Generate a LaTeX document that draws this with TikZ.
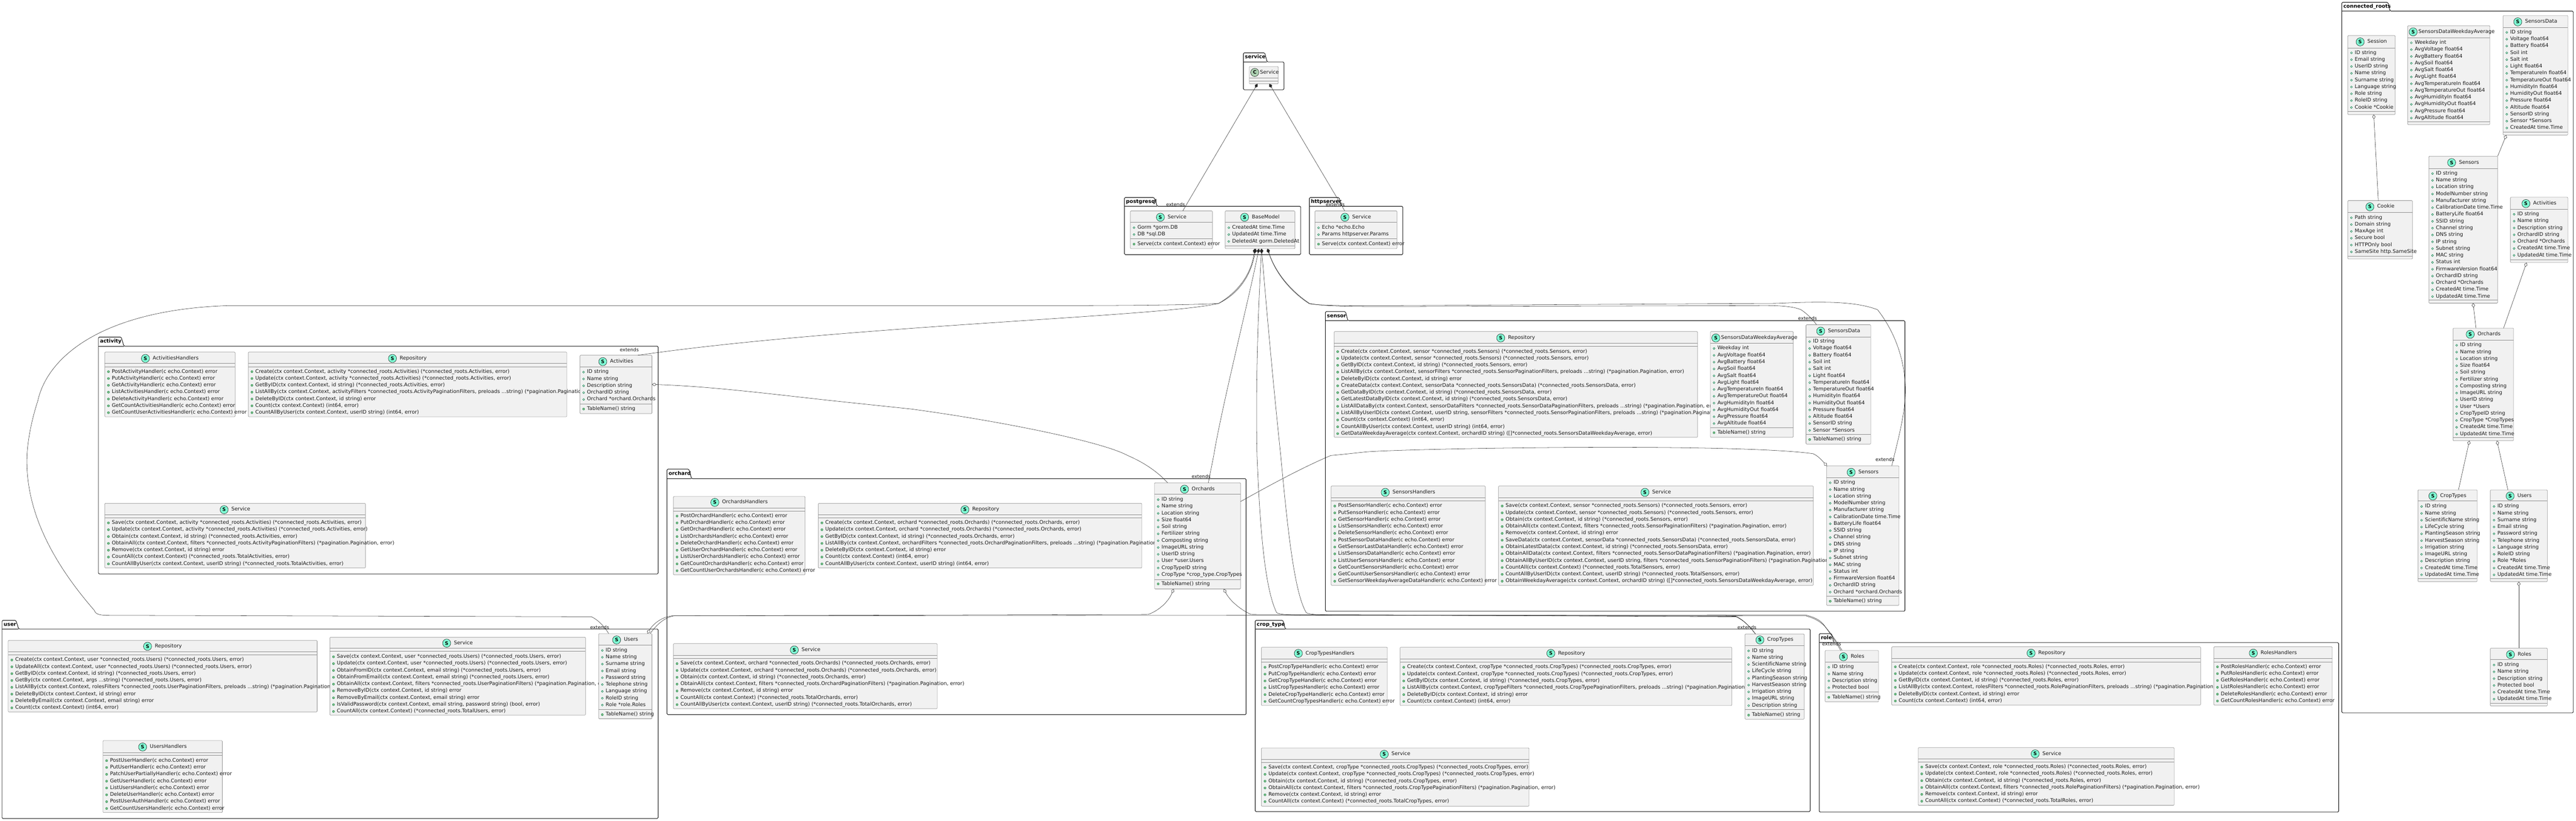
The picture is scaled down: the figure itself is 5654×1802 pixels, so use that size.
\documentclass[tikz,border=0pt]{standalone}
\usepackage{fontspec}
\setmainfont[Ligatures=NoCommon]{DejaVu Sans}
\usetikzlibrary{arrows.meta,calc}
\definecolor{boxfill}{HTML}{F1F1F1}
\definecolor{boxline}{HTML}{8C8C8C}
\definecolor{spotS}{HTML}{7FFFD4}
\definecolor{spotC}{HTML}{ADD1B2}
\definecolor{dotline}{HTML}{038048}
\definecolor{dotfill}{HTML}{84BE84}
\newcommand\rowf{\fontsize{11.15pt}{13pt}\selectfont}
\newcommand\extf{\fontsize{10.4pt}{12pt}\selectfont}
\newcommand\pkgf{\fontsize{11.2pt}{13pt}\selectfont\bfseries}
\newcommand\spotf{\fontsize{10.5pt}{12pt}\selectfont\bfseries}
\newcommand\cro{connected\_roots}
\newcommand\ctxc{ctx context.Context}
\newlength\clstw
\newcount\rowcnt
\def\spotletter{S}\def\spotcolor{spotS}
\tikzset{
 x=1pt,y=-1pt,
 classbox/.style={draw=boxline,fill=boxfill,line width=.7pt,rounded corners=1.5pt,inner sep=0pt,outer sep=0pt},
 sepline/.style={draw=boxline,line width=.8pt},
 rowtext/.style={font=\rowf,anchor=mid west,inner sep=0pt,outer sep=0pt,text=black!90},
 titletext/.style={rowtext},
 spot/.style={circle,draw=black!85,line width=.7pt,minimum size=18pt,inner sep=0pt,font=\spotf},
 fielddot/.style={draw=dotline,line width=.7pt},
 methoddot/.style={draw=dotline,fill=dotfill,line width=.5pt},
 pkgframe/.style={draw=black,line width=1pt,rounded corners=2pt},
 pkglabel/.style={font=\pkgf,anchor=mid west,inner sep=0pt,outer sep=0pt},
 ext/.style={font=\extf,anchor=mid east,inner sep=0pt,outer sep=0pt,text=black!90},
 conn/.style={draw=black!85,line width=.6pt},
 comp/.style={conn,{Diamond[length=10pt,width=7pt]}-},
 agg/.style={conn,{Diamond[length=10pt,width=7pt,fill=white]}-},
}
% id x1 tabtop top x2 bottom tabrighttop tabrightbottom label
\newcommand\pkg[9]{%
 \draw[pkgframe] (#2,#4) -- (#2,#3) -- (#7,#3) -- (#8,#4) -- (#5,#4) -- (#5,#6) -- (#2,#6) -- cycle;
 \draw[draw=black,line width=1pt] (#2,#4) -- (#8,#4);
 \node (#1) [pkglabel] at ({#2+3.5},{(#3+#4)/2}) {#9};
}
% id x1 x2 y1 y2 titleY line1 line2 title
\newcommand\cls[9]{%
 \xdef\xa{#2}%
 \pgfmathsetmacro\clsW{#3-#2}\pgfmathsetmacro\clsH{#5-#4}%
 \node (#1) [classbox,minimum width=\clsW pt,minimum height=\clsH pt] at ({(#2+#3)/2},{(#4+#5)/2}) {};
 \draw[sepline] (#2,#7) -- (#3,#7);
 \draw[sepline] (#2,#8) -- (#3,#8);
 \settowidth\clstw{\pgfinterruptpicture\rowf #9\endpgfinterruptpicture}%
 \pgfmathsetmacro\clsS{(#2+#3)/2-(\clstw+25)/2}%
 \pgfmathsetmacro\clsC{max(\clsS,#2+3)+9}%
 \pgfmathsetmacro\clsT{(\clsS<(#2+3))?(#2+23.5):(\clsS+25)}%
 \node (#1spot) [spot,fill=\spotcolor] at (\clsC,#6) {\spotletter};
 \node (#1title) [titletext] at (\clsT,#6) {#9};
}
\newcommand\setrow[1]{\xdef\rowy{#1}}
\newcommand\nextrow{\pgfmathsetmacro\rowtmp{\rowy+15}\xdef\rowy{\rowtmp}\global\advance\rowcnt by 1 }
\newcommand\rowF[1]{%
 \draw[fielddot] ({\xa+8},\rowy) circle (2.2pt);
 \node (r\the\rowcnt) [rowtext] at ({\xa+15.5},\rowy) {#1};
 \nextrow}
\newcommand\rowM[1]{%
 \draw[methoddot] ({\xa+8},\rowy) circle (2.4pt);
 \node (r\the\rowcnt) [rowtext] at ({\xa+15.5},\rowy) {#1};
 \nextrow}
\begin{document}
\begin{tikzpicture}
\useasboundingbox (0,0) rectangle (5654,1802);
\fill[white] (0,0) rectangle (5654,1802);
% ---- packages
\pkg{pService}{2729}{116}{136}{2818}{197}{2776}{2781}{service}
\pkg{pPostgres}{2468}{433.5}{453}{2855}{559}{2533}{2540}{postgresql}
\pkg{pHttp}{2874}{433.5}{453}{3079}{559}{2939}{2944}{httpserver}
\pkg{pActivity}{216}{740}{760}{1444.5}{1260}{266}{272}{activity}
\pkg{pOrchard}{1464}{1030}{1051}{2735}{1569}{1512}{1518}{orchard}
\pkg{pUser}{4.5}{1362}{1381}{1444.5}{1797}{35}{41}{user}
\pkg{pSensor}{2909}{684}{704}{4181}{1342}{2953}{2958.5}{sensor}
\pkg{pCrop}{2755}{1362}{1381}{3973}{1782}{2816}{2821}{crop\_type}
\pkg{pRole}{3993}{1391}{1411}{5133}{1783}{4020}{4025}{role}
\pkg{pRoots}{5140}{5}{24.5}{5648}{1565}{5241}{5246}{connected\_roots}
% ---- service
\def\spotletter{C}\def\spotcolor{spotC}
\cls{svcS}{2742}{2805.5}{146}{184}{159}{171}{178}{Service}
\def\spotletter{S}\def\spotcolor{spotS}
% ---- postgresql
\cls{pgS}{2481}{2661}{463}{546}{477}{488}{524.5}{Service}
\setrow{500}\rowF{Gorm *gorm.DB}\rowF{DB *sql.DB}
\setrow{536}\rowM{Serve(\ctxc) error}
\cls{bm}{2689}{2842}{463}{546}{477}{488}{540}{BaseModel}
\setrow{500}\rowF{CreatedAt time.Time}\rowF{UpdatedAt time.Time}\rowF{DeletedAt gorm.DeletedAt}
% ---- httpserver
\cls{htS}{2886}{3066}{463}{546}{477}{488}{524.5}{Service}
\setrow{500}\rowF{Echo *echo.Echo}\rowF{Params httpserver.Params}
\setrow{536}\rowM{Serve(\ctxc) error}
% ---- activity
\cls{acH}{230}{516}{773}{915}{787}{798}{805}{ActivitiesHandlers}
\setrow{816}
\rowM{PostActivityHandler(c echo.Context) error}
\rowM{PutActivityHandler(c echo.Context) error}
\rowM{GetActivityHandler(c echo.Context) error}
\rowM{ListActivitiesHandler(c echo.Context) error}
\rowM{DeleteActivityHandler(c echo.Context) error}
\rowM{GetCountActivitiesHandler(c echo.Context) error}
\rowM{GetCountUserActivitiesHandler(c echo.Context) error}
\cls{acR}{545}{1244}{773}{915}{787}{798}{805}{Repository}
\setrow{816}
\rowM{Create(\ctxc, activity *\cro.Activities) (*\cro.Activities, error)}
\rowM{Update(\ctxc, activity *\cro.Activities) (*\cro.Activities, error)}
\rowM{GetByID(\ctxc, id string) (*\cro.Activities, error)}
\rowM{ListAllBy(\ctxc, activityFilters *\cro.ActivityPaginationFilters, preloads ...string) (*pagination.Pagination, error)}
\rowM{DeleteByID(\ctxc, id string) error}
\rowM{Count(\ctxc) (int64, error)}
\rowM{CountAllByUser(\ctxc, userID string) (int64, error)}
\cls{act}{1273}{1431}{780}{908}{794}{805}{887}{Activities}
\setrow{817}
\rowF{ID string}\rowF{Name string}\rowF{Description string}\rowF{OrchardID string}\rowF{Orchard *orchard.Orchards}
\setrow{898}\rowM{TableName() string}
\cls{acS}{230}{802}{1105}{1247}{1119}{1130}{1137}{Service}
\setrow{1148}
\rowM{Save(\ctxc, activity *\cro.Activities) (*\cro.Activities, error)}
\rowM{Update(\ctxc, activity *\cro.Activities) (*\cro.Activities, error)}
\rowM{Obtain(\ctxc, id string) (*\cro.Activities, error)}
\rowM{ObtainAll(\ctxc, filters *\cro.ActivityPaginationFilters) (*pagination.Pagination, error)}
\rowM{Remove(\ctxc, id string) error}
\rowM{CountAll(\ctxc) (*\cro.TotalActivities, error)}
\rowM{CountAllByUser(\ctxc, userID string) (*\cro.TotalActivities, error)}
% ---- orchard
\cls{orH}{1478}{1767}{1090}{1262}{1103}{1115}{1122}{OrchardsHandlers}
\setrow{1133}
\rowM{PostOrchardHandler(c echo.Context) error}
\rowM{PutOrchardHandler(c echo.Context) error}
\rowM{GetOrchardHandler(c echo.Context) error}
\rowM{ListOrchardsHandler(c echo.Context) error}
\rowM{DeleteOrchardHandler(c echo.Context) error}
\rowM{GetUserOrchardHandler(c echo.Context) error}
\rowM{ListUserOrchardsHandler(c echo.Context) error}
\rowM{GetCountOrchardsHandler(c echo.Context) error}
\rowM{GetCountUserOrchardsHandler(c echo.Context) error}
\cls{orR}{1796}{2506}{1105}{1247}{1119}{1130}{1137}{Repository}
\setrow{1148}
\rowM{Create(\ctxc, orchard *\cro.Orchards) (*\cro.Orchards, error)}
\rowM{Update(\ctxc, orchard *\cro.Orchards) (*\cro.Orchards, error)}
\rowM{GetByID(\ctxc, id string) (*\cro.Orchards, error)}
\rowM{ListAllBy(\ctxc, orchardFilters *\cro.OrchardPaginationFilters, preloads ...string) (*pagination.Pagination, error)}
\rowM{DeleteByID(\ctxc, id string) error}
\rowM{Count(\ctxc) (int64, error)}
\rowM{CountAllByUser(\ctxc, userID string) (int64, error)}
\cls{orch}{2534}{2723}{1060}{1293}{1074}{1085}{1272}{Orchards}
\setrow{1097}
\rowF{ID string}\rowF{Name string}\rowF{Location string}\rowF{Size float64}\rowF{Soil string}\rowF{Fertilizer string}\rowF{Composting string}\rowF{ImageURL string}\rowF{UserID string}\rowF{User *user.Users}\rowF{CropTypeID string}\rowF{CropType *crop\_type.CropTypes}
\setrow{1282}\rowM{TableName() string}
\cls{orS}{1478}{2057}{1413}{1556}{1427}{1439}{1446}{Service}
\setrow{1457}
\rowM{Save(\ctxc, orchard *\cro.Orchards) (*\cro.Orchards, error)}
\rowM{Update(\ctxc, orchard *\cro.Orchards) (*\cro.Orchards, error)}
\rowM{Obtain(\ctxc, id string) (*\cro.Orchards, error)}
\rowM{ObtainAll(\ctxc, filters *\cro.OrchardPaginationFilters) (*pagination.Pagination, error)}
\rowM{Remove(\ctxc, id string) error}
\rowM{CountAll(\ctxc) (*\cro.TotalOrchards, error)}
\rowM{CountAllByUser(\ctxc, userID string) (*\cro.TotalOrchards, error)}
% ---- user
\cls{usR}{18}{696}{1406}{1563}{1419}{1431}{1438}{Repository}
\setrow{1449}
\rowM{Create(\ctxc, user *\cro.Users) (*\cro.Users, error)}
\rowM{UpdateAll(\ctxc, user *\cro.Users) (*\cro.Users, error)}
\rowM{GetByID(\ctxc, id string) (*\cro.Users, error)}
\rowM{GetBy(\ctxc, args ...string) (*\cro.Users, error)}
\rowM{ListAllBy(\ctxc, rolesFilters *\cro.UserPaginationFilters, preloads ...string) (*pagination.Pagination, error)}
\rowM{DeleteByID(\ctxc, id string) error}
\rowM{DeleteByEmail(\ctxc, email string) error}
\rowM{Count(\ctxc) (int64, error)}
\cls{usS}{724}{1285}{1399}{1570}{1412}{1423}{1430}{Service}
\setrow{1442}
\rowM{Save(\ctxc, user *\cro.Users) (*\cro.Users, error)}
\rowM{Update(\ctxc, user *\cro.Users) (*\cro.Users, error)}
\rowM{ObtainFromID(\ctxc, email string) (*\cro.Users, error)}
\rowM{ObtainFromEmail(\ctxc, email string) (*\cro.Users, error)}
\rowM{ObtainAll(\ctxc, filters *\cro.UserPaginationFilters) (*pagination.Pagination, error)}
\rowM{RemoveByID(\ctxc, id string) error}
\rowM{RemoveByEmail(\ctxc, email string) error}
\rowM{IsValidPassword(\ctxc, email string, password string) (bool, error)}
\rowM{CountAll(\ctxc) (*\cro.TotalUsers, error)}
\cls{uu}{1314}{1431}{1391}{1578}{1405}{1416}{1557}{Users}
\setrow{1428}
\rowF{ID string}\rowF{Name string}\rowF{Surname string}\rowF{Email string}\rowF{Password string}\rowF{Telephone string}\rowF{Language string}\rowF{RoleID string}\rowF{Role *role.Roles}
\setrow{1569}\rowM{TableName() string}
\cls{usH}{226}{488}{1626}{1784}{1640}{1652}{1658}{UsersHandlers}
\setrow{1670}
\rowM{PostUserHandler(c echo.Context) error}
\rowM{PutUserHandler(c echo.Context) error}
\rowM{PatchUserPartiallyHandler(c echo.Context) error}
\rowM{GetUserHandler(c echo.Context) error}
\rowM{ListUsersHandler(c echo.Context) error}
\rowM{DeleteUserHandler(c echo.Context) error}
\rowM{PostUserAuthHandler(c echo.Context) error}
\rowM{GetCountUsersHandler(c echo.Context) error}
% ---- sensor
\cls{seR}{2928}{3726}{728}{960}{742}{754}{760}{Repository}
\setrow{772}
\rowM{Create(\ctxc, sensor *\cro.Sensors) (*\cro.Sensors, error)}
\rowM{Update(\ctxc, sensor *\cro.Sensors) (*\cro.Sensors, error)}
\rowM{GetByID(\ctxc, id string) (*\cro.Sensors, error)}
\rowM{ListAllBy(\ctxc, sensorFilters *\cro.SensorPaginationFilters, preloads ...string) (*pagination.Pagination, error)}
\rowM{DeleteByID(\ctxc, id string) error}
\rowM{CreateData(\ctxc, sensorData *\cro.SensorsData) (*\cro.SensorsData, error)}
\rowM{GetDataByID(\ctxc, id string) (*\cro.SensorsData, error)}
\rowM{GetLatestDataByID(\ctxc, id string) (*\cro.SensorsData, error)}
\rowM{ListAllDataBy(\ctxc, sensorDataFilters *\cro.SensorDataPaginationFilters, preloads ...string) (*pagination.Pagination, error)}
\rowM{ListAllByUserID(\ctxc, userID string, sensorFilters *\cro.SensorPaginationFilters, preloads ...string) (*pagination.Pagination, error)}
\rowM{Count(\ctxc) (int64, error)}
\rowM{CountAllByUser(\ctxc, userID string) (int64, error)}
\rowM{GetDataWeekdayAverage(\ctxc, orchardID string) ([]*\cro.SensorsDataWeekdayAverage, error)}
\cls{seW}{3754}{3936}{728}{960}{742}{754}{939}{SensorsDataWeekdayAverage}
\setrow{765}
\rowF{Weekday int}\rowF{AvgVoltage float64}\rowF{AvgBattery float64}\rowF{AvgSoil float64}\rowF{AvgSalt float64}\rowF{AvgLight float64}\rowF{AvgTemperatureIn float64}\rowF{AvgTemperatureOut float64}\rowF{AvgHumidityIn float64}\rowF{AvgHumidityOut float64}\rowF{AvgPressure float64}\rowF{AvgAltitude float64}
\setrow{950}\rowM{TableName() string}
\cls{seD}{3964}{4106}{713}{975}{727}{740}{954}{SensorsData}
\setrow{750}
\rowF{ID string}\rowF{Voltage float64}\rowF{Battery float64}\rowF{Soil int}\rowF{Salt int}\rowF{Light float64}\rowF{TemperatureIn float64}\rowF{TemperatureOut float64}\rowF{HumidityIn float64}\rowF{HumidityOut float64}\rowF{Pressure float64}\rowF{Altitude float64}\rowF{SensorID string}\rowF{Sensor *Sensors}
\setrow{965}\rowM{TableName() string}
\cls{seH}{2921.6}{3260}{1067}{1285}{1081}{1093}{1100}{SensorsHandlers}
\setrow{1111}
\rowM{PostSensorHandler(c echo.Context) error}
\rowM{PutSensorHandler(c echo.Context) error}
\rowM{GetSensorHandler(c echo.Context) error}
\rowM{ListSensorsHandler(c echo.Context) error}
\rowM{DeleteSensorHandler(c echo.Context) error}
\rowM{PostSensorDataHandler(c echo.Context) error}
\rowM{GetSensorLastDataHandler(c echo.Context) error}
\rowM{ListSensorsDataHandler(c echo.Context) error}
\rowM{ListUserSensorsHandler(c echo.Context) error}
\rowM{GetCountSensorsHandler(c echo.Context) error}
\rowM{GetCountUserSensorsHandler(c echo.Context) error}
\rowM{GetSensorWeekdayAverageDataHandler(c echo.Context) error}
\cls{seS}{3289}{3980}{1067}{1285}{1081}{1093}{1100}{Service}
\setrow{1111}
\rowM{Save(\ctxc, sensor *\cro.Sensors) (*\cro.Sensors, error)}
\rowM{Update(\ctxc, sensor *\cro.Sensors) (*\cro.Sensors, error)}
\rowM{Obtain(\ctxc, id string) (*\cro.Sensors, error)}
\rowM{ObtainAll(\ctxc, filters *\cro.SensorPaginationFilters) (*pagination.Pagination, error)}
\rowM{Remove(\ctxc, id string) error}
\rowM{SaveData(\ctxc, sensorData *\cro.SensorsData) (*\cro.SensorsData, error)}
\rowM{ObtainLatestData(\ctxc, id string) (*\cro.SensorsData, error)}
\rowM{ObtainAllData(\ctxc, filters *\cro.SensorDataPaginationFilters) (*pagination.Pagination, error)}
\rowM{ObtainAllByUserID(\ctxc, userID string, filters *\cro.SensorPaginationFilters) (*pagination.Pagination, error)}
\rowM{CountAll(\ctxc) (*\cro.TotalSensors, error)}
\rowM{CountAllByUserID(\ctxc, userID string) (*\cro.TotalSensors, error)}
\rowM{ObtainWeekdayAverage(\ctxc, orchardID string) ([]*\cro.SensorsDataWeekdayAverage, error)}
\cls{sen}{4009}{4168}{1023}{1329}{1037}{1048.5}{1309}{Sensors}
\setrow{1060}
\rowF{ID string}\rowF{Name string}\rowF{Location string}\rowF{ModelNumber string}\rowF{Manufacturer string}\rowF{CalibrationDate time.Time}\rowF{BatteryLife float64}\rowF{SSID string}\rowF{Channel string}\rowF{DNS string}\rowF{IP string}\rowF{Subnet string}\rowF{MAC string}\rowF{Status int}\rowF{FirmwareVersion float64}\rowF{OrchardID string}\rowF{Orchard *orchard.Orchards}
\setrow{1320}\rowM{TableName() string}
% ---- crop_type
\cls{crH}{2768.5}{3045}{1421}{1549}{1434.5}{1447}{1453}{CropTypesHandlers}
\setrow{1465}
\rowM{PostCropTypeHandler(c echo.Context) error}
\rowM{PutCropTypeHandler(c echo.Context) error}
\rowM{GetCropTypeHandler(c echo.Context) error}
\rowM{ListCropTypesHandler(c echo.Context) error}
\rowM{DeleteCropTypeHandler(c echo.Context) error}
\rowM{GetCountCropTypesHandler(c echo.Context) error}
\cls{crR}{3073}{3801}{1421}{1549}{1434.5}{1447}{1453}{Repository}
\setrow{1465}
\rowM{Create(\ctxc, cropType *\cro.CropTypes) (*\cro.CropTypes, error)}
\rowM{Update(\ctxc, cropType *\cro.CropTypes) (*\cro.CropTypes, error)}
\rowM{GetByID(\ctxc, id string) (*\cro.CropTypes, error)}
\rowM{ListAllBy(\ctxc, cropTypeFilters *\cro.CropTypePaginationFilters, preloads ...string) (*pagination.Pagination, error)}
\rowM{DeleteByID(\ctxc, id string) error}
\rowM{Count(\ctxc) (int64, error)}
\cls{cty}{3830}{3960}{1392}{1579}{1405}{1417}{1558}{CropTypes}
\setrow{1429}
\rowF{ID string}\rowF{Name string}\rowF{ScientificName string}\rowF{LifeCycle string}\rowF{PlantingSeason string}\rowF{HarvestSeason string}\rowF{Irrigation string}\rowF{ImageURL string}\rowF{Description string}
\setrow{1570}\rowM{TableName() string}
\cls{crS}{2768.5}{3356}{1642}{1770}{1656}{1667}{1674}{Service}
\setrow{1685}
\rowM{Save(\ctxc, cropType *\cro.CropTypes) (*\cro.CropTypes, error)}
\rowM{Update(\ctxc, cropType *\cro.CropTypes) (*\cro.CropTypes, error)}
\rowM{Obtain(\ctxc, id string) (*\cro.CropTypes, error)}
\rowM{ObtainAll(\ctxc, filters *\cro.CropTypePaginationFilters) (*pagination.Pagination, error)}
\rowM{Remove(\ctxc, id string) error}
\rowM{CountAll(\ctxc) (*\cro.TotalCropTypes, error)}
% ---- role
\cls{rol}{4006}{4123}{1428}{1541}{1442}{1453}{1519}{Roles}
\setrow{1465}
\rowF{ID string}\rowF{Name string}\rowF{Description string}\rowF{Protected bool}
\setrow{1531}\rowM{TableName() string}
\cls{roR}{4152}{4830}{1420}{1548}{1434}{1446}{1453}{Repository}
\setrow{1464}
\rowM{Create(\ctxc, role *\cro.Roles) (*\cro.Roles, error)}
\rowM{Update(\ctxc, role *\cro.Roles) (*\cro.Roles, error)}
\rowM{GetByID(\ctxc, id string) (*\cro.Roles, error)}
\rowM{ListAllBy(\ctxc, rolesFilters *\cro.RolePaginationFilters, preloads ...string) (*pagination.Pagination, error)}
\rowM{DeleteByID(\ctxc, id string) error}
\rowM{Count(\ctxc) (int64, error)}
\cls{roH}{4859}{5119}{1420}{1548}{1434}{1446}{1453}{RolesHandlers}
\setrow{1464}
\rowM{PostRolesHandler(c echo.Context) error}
\rowM{PutRolesHandler(c echo.Context) error}
\rowM{GetRolesHandler(c echo.Context) error}
\rowM{ListRolesHandler(c echo.Context) error}
\rowM{DeleteRolesHandler(c echo.Context) error}
\rowM{GetCountRolesHandler(c echo.Context) error}
\cls{roS}{4210}{4772}{1641.5}{1768}{1655}{1666}{1673}{Service}
\setrow{1684}
\rowM{Save(\ctxc, role *\cro.Roles) (*\cro.Roles, error)}
\rowM{Update(\ctxc, role *\cro.Roles) (*\cro.Roles, error)}
\rowM{Obtain(\ctxc, id string) (*\cro.Roles, error)}
\rowM{ObtainAll(\ctxc, filters *\cro.RolePaginationFilters) (*pagination.Pagination, error)}
\rowM{Remove(\ctxc, id string) error}
\rowM{CountAll(\ctxc) (*\cro.TotalRoles, error)}
% ---- connected_roots
\cls{cSession}{5153}{5257}{78}{251.5}{92}{105}{245}{Session}
\setrow{116}
\rowF{ID string}\rowF{Email string}\rowF{UserID string}\rowF{Name string}\rowF{Surname string}\rowF{Language string}\rowF{Role string}\rowF{RoleID string}\rowF{Cookie *Cookie}
\cls{cWeek}{5284.5}{5465}{56.5}{273.6}{70}{82.6}{267.7}{SensorsDataWeekdayAverage}
\setrow{94}
\rowF{Weekday int}\rowF{AvgVoltage float64}\rowF{AvgBattery float64}\rowF{AvgSoil float64}\rowF{AvgSalt float64}\rowF{AvgLight float64}\rowF{AvgTemperatureIn float64}\rowF{AvgTemperatureOut float64}\rowF{AvgHumidityIn float64}\rowF{AvgHumidityOut float64}\rowF{AvgPressure float64}\rowF{AvgAltitude float64}
\cls{cData}{5494}{5636}{34}{296.5}{48}{60}{290}{SensorsData}
\setrow{71}
\rowF{ID string}\rowF{Voltage float64}\rowF{Battery float64}\rowF{Soil int}\rowF{Salt int}\rowF{Light float64}\rowF{TemperatureIn float64}\rowF{TemperatureOut float64}\rowF{HumidityIn float64}\rowF{HumidityOut float64}\rowF{Pressure float64}\rowF{Altitude float64}\rowF{SensorID string}\rowF{Sensor *Sensors}\rowF{CreatedAt time.Time}
\cls{cCookie}{5153}{5295}{440.5}{568.6}{454}{466.6}{562.7}{Cookie}
\setrow{478}
\rowF{Path string}\rowF{Domain string}\rowF{MaxAge int}\rowF{Secure bool}\rowF{HTTPOnly bool}\rowF{SameSite http.SameSite}
\cls{cSensors}{5331}{5482}{343}{665.5}{357}{370}{659}{Sensors}
\setrow{381}
\rowF{ID string}\rowF{Name string}\rowF{Location string}\rowF{ModelNumber string}\rowF{Manufacturer string}\rowF{CalibrationDate time.Time}\rowF{BatteryLife float64}\rowF{SSID string}\rowF{Channel string}\rowF{DNS string}\rowF{IP string}\rowF{Subnet string}\rowF{MAC string}\rowF{Status int}\rowF{FirmwareVersion float64}\rowF{OrchardID string}\rowF{Orchard *Orchards}\rowF{CreatedAt time.Time}\rowF{UpdatedAt time.Time}
\cls{cAct}{5510}{5636}{433}{576.5}{447}{459.5}{570}{Activities}
\setrow{470.5}
\rowF{ID string}\rowF{Name string}\rowF{Description string}\rowF{OrchardID string}\rowF{Orchard *Orchards}\rowF{CreatedAt time.Time}\rowF{UpdatedAt time.Time}
\cls{cOrch}{5384}{5517}{720.4}{967.6}{734}{746.5}{961}{Orchards}
\setrow{758}
\rowF{ID string}\rowF{Name string}\rowF{Location string}\rowF{Size float64}\rowF{Soil string}\rowF{Fertilizer string}\rowF{Composting string}\rowF{ImageURL string}\rowF{UserID string}\rowF{User *Users}\rowF{CropTypeID string}\rowF{CropType *CropTypes}\rowF{CreatedAt time.Time}\rowF{UpdatedAt time.Time}
\cls{cCrop}{5307}{5437}{1075.5}{1277}{1089}{1100}{1270}{CropTypes}
\setrow{1112}
\rowF{ID string}\rowF{Name string}\rowF{ScientificName string}\rowF{LifeCycle string}\rowF{PlantingSeason string}\rowF{HarvestSeason string}\rowF{Irrigation string}\rowF{ImageURL string}\rowF{Description string}\rowF{CreatedAt time.Time}\rowF{UpdatedAt time.Time}
\cls{cUsers}{5466}{5591}{1075.5}{1277}{1089}{1100}{1270}{Users}
\setrow{1112}
\rowF{ID string}\rowF{Name string}\rowF{Surname string}\rowF{Email string}\rowF{Password string}\rowF{Telephone string}\rowF{Language string}\rowF{RoleID string}\rowF{Role *Roles}\rowF{CreatedAt time.Time}\rowF{UpdatedAt time.Time}
\cls{cRoles}{5466}{5591}{1423}{1550}{1437}{1448}{1544}{Roles}
\setrow{1460}
\rowF{ID string}\rowF{Name string}\rowF{Description string}\rowF{Protected bool}\rowF{CreatedAt time.Time}\rowF{UpdatedAt time.Time}
% ---- connectors: service
\draw[comp] ([xshift=-13.75pt]svcS.south) -- ([xshift=25pt]pgS.north);
\draw[comp] ([xshift=12.25pt]svcS.south) -- ([xshift=-24.5pt]htS.north);
\node (e1) [ext] at (2601,450) {extends};
\node (e2) [ext] at (2951.5,450) {extends};
% ---- connectors: BaseModel
\draw[comp] ([xshift=-11.5pt]bm.south) .. controls (2745,610) and (2710,645) .. (2675,666)
  .. controls (2640,669) and (2500,671) .. (2300,671) -- (500,671)
  .. controls (230,680) and (105,780) .. (83,880)
  .. controls (70,920) and (59,970) .. (59,1013)
  .. controls (59,1130) and (120,1240) .. (207,1340)
  .. controls (210,1348) and (216,1350) .. (232,1351) -- (1298,1354)
  .. controls (1315,1362) and (1328,1378) .. ([xshift=-36.5pt]uu.north);
\node (e3) [ext] at (1337,1378) {extends};
\draw[comp] ([xshift=-9.5pt]bm.south) .. controls (2745,612) and (2712,648) .. (2675,666)
  .. controls (2560,695) and (1850,715) .. ([xshift=48pt]act.north);
\node (e4) [ext] at (1402,769) {extends};
\draw[comp] ([xshift=-2.5pt]bm.south) .. controls (2745,640) and (2680,900) .. (2664,1000) -- ([xshift=23.5pt]orch.north);
\node (e5) [ext] at (2657,1047) {extends};
\draw[comp] ([xshift=3.5pt]bm.south) .. controls (2765,620) and (2755,800) .. (2759,1000)
  .. controls (2765,1150) and (2775,1290) .. (2802,1345)
  .. controls (2810,1350) and (2830,1351) .. (2900,1351) -- (3963,1352)
  .. controls (3985,1358) and (3995,1365) .. (4005,1375)
  .. controls (4020,1392) and (4032,1410) .. ([xshift=-21.5pt]rol.north);
\node (e6) [ext] at (4041,1415) {extends};
\draw[comp] ([xshift=3.5pt]bm.south) .. controls (2775,620) and (2790,800) .. (2811,1000)
  .. controls (2825,1150) and (2840,1300) .. (2867,1345)
  .. controls (2875,1350) and (2900,1350) .. (2950,1350) -- (3810,1354)
  .. controls (3828,1362) and (3843,1378) .. ([xshift=-42pt]cty.north);
\node (e7) [ext] at (3855,1378) {extends};
\draw[comp] ([xshift=16.5pt]bm.south) .. controls (2800,600) and (2835,640) .. (2874,666)
  .. controls (2900,672) and (2950,673) .. (3050,673) -- (3850,671)
  .. controls (3900,670) and (3935,672) .. (3953,680)
  .. controls (3965,688) and (3978,700) .. ([xshift=-48pt]seD.north);
\node (e8) [ext] at (3988,700) {extends};
\draw[comp] ([xshift=16.5pt]bm.south) .. controls (2800,602) and (2835,642) .. (2874,667)
  .. controls (2900,671) and (2950,671) .. (3050,671) -- (3900,666)
  .. controls (3990,662) and (4070,660) .. (4121,680)
  .. controls (4160,730) and (4180,790) .. (4182,850)
  .. controls (4183,900) and (4170,950) .. ([xshift=63.5pt]sen.north);
\node (e9) [ext] at (4158,1010) {extends};
% ---- connectors: cross package
\draw[agg] ([xshift=-52.5pt]orch.south) .. controls (2565,1320) and (2545,1340) .. (2520,1349) -- (1480,1352)
  .. controls (1460,1355) and (1442,1370) .. ([xshift=54.5pt]uu.north);
\draw[agg] ([xshift=57.5pt]orch.south) .. controls (2700,1320) and (2725,1340) .. (2746,1349) -- (3810,1353)
  .. controls (3828,1361) and (3842,1378) .. ([xshift=-42pt]cty.north);
\draw[agg] ([xshift=48.5pt]uu.north) .. controls (1432,1372) and (1450,1355) .. (1475,1352) -- (3963,1350)
  .. controls (3985,1356) and (3996,1362) .. (4004,1373)
  .. controls (4018,1392) and (4030,1410) .. ([xshift=-24.5pt]rol.north);
\draw[agg] ([xshift=1pt]sen.north west) .. controls (4000,1012) and (3990,1000) .. (3979,996)
  .. controls (3900,985) and (3700,982) .. (3542,982)
  .. controls (3300,982) and (3050,988) .. (3000,992)
  .. controls (2970,995) and (2945,998) .. (2921,1000)
  .. controls (2850,1030) and (2770,1075) .. ([yshift=75.5pt]orch.east);
\draw[agg] (act.east) .. controls (1560,848) and (1700,866) .. (1829,880) -- (2000,898)
  .. controls (2200,925) and (2420,970) .. (2475,1000)
  .. controls (2510,1015) and (2540,1035) .. ([xshift=-65.5pt]orch.north);
% ---- connectors: connected_roots
\draw[agg] ([xshift=5pt]cSession.south) -- ([xshift=-4pt]cCookie.north);
\draw[agg] ([xshift=-64pt]cData.south) -- ([xshift=75.5pt]cSensors.north);
\draw[agg] ([xshift=21.5pt]cSensors.south) -- ([xshift=-16pt]cOrch.north);
\draw[agg] ([xshift=-27.5pt]cAct.south) -- ([xshift=44.5pt]cOrch.north);
\draw[agg] ([xshift=-30.5pt]cOrch.south) -- ([xshift=24pt]cCrop.north);
\draw[agg] ([xshift=30pt]cOrch.south) -- ([xshift=-24pt]cUsers.north);
\draw[agg] (cUsers.south) -- (cRoles.north);
\end{tikzpicture}
\end{document}
